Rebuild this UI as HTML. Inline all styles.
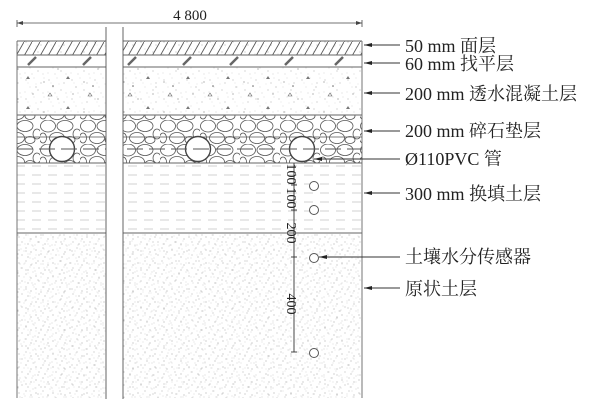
<!DOCTYPE html>
<html><head><meta charset="utf-8"><style>
html,body{margin:0;padding:0;background:#fff;width:610px;height:411px;overflow:hidden}
text{font-family:"Liberation Serif","Noto Serif CJK SC",serif;fill:#222}
</style></head><body>
<svg width="610" height="411" viewBox="0 0 610 411" xmlns="http://www.w3.org/2000/svg">
<defs>
<pattern id="hatch" width="8" height="14" patternUnits="userSpaceOnUse">
<line x1="0" y1="14" x2="8" y2="0" stroke="#555" stroke-width="0.9"/>
</pattern>
<pattern id="speck" width="23" height="19" patternUnits="userSpaceOnUse">
<circle cx="3" cy="4" r="0.5" fill="#999"/><circle cx="11" cy="2" r="0.4" fill="#aaa"/><circle cx="18" cy="7" r="0.5" fill="#999"/>
<circle cx="7" cy="11" r="0.4" fill="#aaa"/><circle cx="15" cy="14" r="0.5" fill="#999"/><circle cx="2" cy="16" r="0.4" fill="#aaa"/>
<circle cx="20" cy="17" r="0.4" fill="#999"/><circle cx="13" cy="8" r="0.4" fill="#bbb"/><circle cx="9" cy="17" r="0.4" fill="#999"/>
<circle cx="21" cy="2" r="0.4" fill="#aaa"/><circle cx="5" cy="7" r="0.4" fill="#bbb"/>
</pattern>
<pattern id="concrete" width="40" height="30" patternUnits="userSpaceOnUse">
<path d="M8 6 l2 -3 l2 3z" fill="none" stroke="#666" stroke-width="0.6"/>
<path d="M26 19 l2 -3 l2 3z" fill="#777"/>
<circle cx="18" cy="9" r="0.6" fill="#888"/><circle cx="33" cy="4" r="0.6" fill="#888"/><circle cx="4" cy="22" r="0.6" fill="#888"/>
<circle cx="13" cy="26" r="0.8" fill="#666"/><circle cx="36" cy="27" r="0.5" fill="#888"/>
</pattern>
<pattern id="gravel" width="40" height="24" patternUnits="userSpaceOnUse">
<rect width="40" height="24" fill="#fff"/>
<ellipse cx="8" cy="6" rx="7.5" ry="6" fill="none" stroke="#555" stroke-width="0.8"/>
<ellipse cx="25" cy="6" rx="8" ry="5.5" fill="none" stroke="#555" stroke-width="0.8"/>
<ellipse cx="37" cy="14" rx="4" ry="5" fill="none" stroke="#555" stroke-width="0.8"/>
<ellipse cx="17" cy="18" rx="7.5" ry="5.5" fill="none" stroke="#555" stroke-width="0.8"/>
<ellipse cx="3" cy="18" rx="3.5" ry="5" fill="none" stroke="#555" stroke-width="0.8"/>
<ellipse cx="30" cy="20" rx="5" ry="3.5" fill="none" stroke="#555" stroke-width="0.8"/>
</pattern>
<pattern id="fill" width="16" height="9" patternUnits="userSpaceOnUse">
<line x1="0" y1="4" x2="9" y2="4" stroke="#c4c4c4" stroke-width="0.8"/>
</pattern>
<pattern id="soil" width="17" height="13" patternUnits="userSpaceOnUse">
<circle cx="2" cy="3" r="0.5" fill="#888"/><circle cx="9" cy="1" r="0.5" fill="#999"/><circle cx="14" cy="5" r="0.5" fill="#888"/>
<circle cx="5" cy="8" r="0.5" fill="#999"/><circle cx="11" cy="10" r="0.5" fill="#888"/><circle cx="16" cy="12" r="0.4" fill="#999"/>
<circle cx="1" cy="11" r="0.4" fill="#999"/><circle cx="7" cy="4" r="0.4" fill="#aaa"/><circle cx="13" cy="7" r="0.4" fill="#aaa"/>
</pattern>
</defs>

<line x1="17" y1="23" x2="362" y2="23" stroke="#444" stroke-width="0.8"/>
<path d="M17 23 l6 -2 v4z M362 23 l-6 -2 v4z" fill="#444"/>
<line x1="17" y1="20" x2="17" y2="27" stroke="#444" stroke-width="0.8"/>
<line x1="362" y1="20" x2="362" y2="27" stroke="#444" stroke-width="0.8"/>
<text x="190" y="20" font-size="15" text-anchor="middle">4 800</text>

<rect x="17" y="41" width="345" height="14" fill="url(#speck)"/>
<rect x="17" y="41" width="345" height="14" fill="url(#hatch)"/>
<rect x="17" y="67" width="345" height="48" fill="url(#speck)"/>
<rect x="17" y="67" width="345" height="48" fill="url(#concrete)"/>
<rect x="17" y="115" width="345" height="48" fill="url(#gravel)"/>
<rect x="17" y="163" width="345" height="70" fill="url(#fill)"/>
<rect x="17" y="233" width="345" height="165" fill="url(#soil)"/>
<rect x="17" y="233" width="345" height="165" fill="url(#speck)"/>

<g stroke="#666" stroke-width="2.5">
<line x1="28" y1="65" x2="36" y2="57"/><line x1="83" y1="65" x2="91" y2="57"/>
<line x1="128" y1="65" x2="136" y2="57"/><line x1="183" y1="65" x2="191" y2="57"/><line x1="230" y1="65" x2="238" y2="57"/><line x1="285" y1="65" x2="293" y2="57"/><line x1="335" y1="65" x2="343" y2="57"/>
</g>
<g stroke="#666" stroke-width="0.9" fill="none">
<line x1="17" y1="41" x2="362" y2="41"/>
<line x1="17" y1="55" x2="362" y2="55"/>
<line x1="17" y1="67" x2="362" y2="67"/>
<line x1="17" y1="115" x2="362" y2="115"/>
<line x1="17" y1="163" x2="362" y2="163"/>
<line x1="17" y1="233" x2="362" y2="233"/>
<line x1="17" y1="41" x2="17" y2="398"/>
<line x1="362" y1="41" x2="362" y2="398"/>
</g>
<line x1="17" y1="137" x2="362" y2="137" stroke="#555" stroke-width="0.8"/>
<g fill="#fff" stroke="#444" stroke-width="1.4">
<circle cx="62" cy="149" r="12.5"/><circle cx="198" cy="149" r="12.5"/><circle cx="302" cy="149" r="12.5"/>
</g>
<line x1="17" y1="149" x2="362" y2="149" stroke="#555" stroke-width="0.9" stroke-dasharray="16,6"/>
<rect x="106" y="27" width="17" height="372" fill="#fff"/>
<line x1="106" y1="27" x2="106" y2="399" stroke="#555" stroke-width="0.9"/>
<line x1="123" y1="27" x2="123" y2="399" stroke="#555" stroke-width="0.9"/>

<line x1="294" y1="163" x2="294" y2="352" stroke="#333" stroke-width="0.9"/>
<g stroke="#333" stroke-width="0.9">
<line x1="291" y1="185" x2="297" y2="185"/><line x1="291" y1="210" x2="297" y2="210"/>
<line x1="291" y1="257" x2="297" y2="257"/><line x1="291" y1="352" x2="297" y2="352"/>
</g>
<g font-size="14">
<text transform="translate(287,174) rotate(90)" text-anchor="middle">100</text>
<text transform="translate(287,198) rotate(90)" text-anchor="middle">100</text>
<text transform="translate(287,233) rotate(90)" text-anchor="middle">200</text>
<text transform="translate(287,304) rotate(90)" text-anchor="middle">400</text>
</g>
<g fill="#fff" stroke="#555" stroke-width="1">
<circle cx="314" cy="186" r="4.5"/><circle cx="314" cy="210" r="4.5"/><circle cx="314" cy="258" r="4.5"/><circle cx="314" cy="353" r="4.5"/>
</g>

<g stroke="#333" stroke-width="0.9">
<line x1="364" y1="45" x2="400" y2="45"/>
<line x1="364" y1="63" x2="400" y2="63"/>
<line x1="364" y1="93" x2="400" y2="93"/>
<line x1="364" y1="131" x2="400" y2="131"/>
<line x1="314" y1="159" x2="400" y2="159"/>
<line x1="364" y1="193" x2="400" y2="193"/>
<line x1="319" y1="257" x2="400" y2="257"/>
<line x1="364" y1="288" x2="400" y2="288"/>
</g>
<g fill="#222">
<path d="M364 45 l8 -2 v4z"/><path d="M364 63 l8 -2 v4z"/><path d="M364 93 l8 -2 v4z"/><path d="M364 131 l8 -2 v4z"/>
<path d="M314 159 l8 -2 v4z"/><path d="M364 193 l8 -2 v4z"/><path d="M319 257 l8 -2 v4z"/><path d="M364 288 l8 -2 v4z"/>
</g>
<g font-size="18">
<text x="405" y="52">50 mm 面层</text>
<text x="405" y="70">60 mm 找平层</text>
<text x="405" y="100">200 mm 透水混凝土层</text>
<text x="405" y="137">200 mm 碎石垫层</text>
<text x="405" y="165">Ø110PVC 管</text>
<text x="405" y="200">300 mm 换填土层</text>
<text x="405" y="263">土壤水分传感器</text>
<text x="405" y="295">原状土层</text>
</g>
</svg>
</body></html>
